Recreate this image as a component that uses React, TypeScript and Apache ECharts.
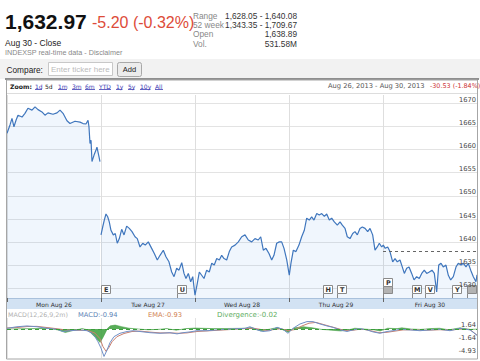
import React, { useEffect, useRef } from 'react';
import * as echarts from 'echarts';

const SANS = '"Liberation Sans", Arial, sans-serif';
const VERD = '"DejaVu Sans", Verdana, sans-serif';

// ---------- quote header ----------
const quotePrice = '1,632.97';
const quoteChange = '-5.20 (-0.32%)';
const quoteDate = 'Aug 30 - Close';
const quoteSource = 'INDEXSP real-time data - Disclaimer';
const statLabels = ['Range', '52 week', 'Open', 'Vol.'];
const statValues = ['1,628.05 - 1,640.08', '1,343.35 - 1,709.67', '1,638.89', '531.58M'];
const zoomLinks = ['1d', '5d', '1m', '3m', '6m', 'YTD', '1y', '5y', '10y', 'All'];
const activeZoom = '5d';
const rangeText = 'Aug 26, 2013 - Aug 30, 2013';
const rangeChange = '-30.53 (-1.84%)';

// ---------- axes ----------
const dayLabels = ['Mon Aug 26', 'Tue Aug 27', 'Wed Aug 28', 'Thu Aug 29', 'Fri Aug 30'];
const priceTicks = [1630, 1635, 1640, 1645, 1650, 1655, 1660, 1665, 1670];
const priceMin = 1628;
const priceMax = 1671.75;
const prevClose = 1638.17;
const macdTicks = [1.64, -1.64, -4.93];

// ---------- price, x = trading days since Mon open ----------
const monday = [
  [0.0, 1663.5], [0.032, 1665.3], [0.053, 1666.7], [0.074, 1664.9], [0.096, 1666.3],
  [0.117, 1667.4], [0.16, 1667.0], [0.191, 1667.8], [0.223, 1668.9], [0.266, 1668.5],
  [0.298, 1669.2], [0.33, 1668.6], [0.372, 1668.1], [0.404, 1667.4], [0.436, 1667.9],
  [0.489, 1667.6], [0.532, 1667.9], [0.564, 1668.5], [0.596, 1667.8], [0.638, 1666.2],
  [0.67, 1665.6], [0.723, 1666.1], [0.777, 1665.9], [0.809, 1665.6], [0.84, 1665.5],
  [0.862, 1666.3], [0.872, 1664.9], [0.883, 1661.3], [0.894, 1662.0], [0.904, 1657.4],
  [0.926, 1658.8], [0.947, 1659.9], [0.957, 1660.5], [0.979, 1658.4], [0.989, 1657.4],
];
const tuesday = [
  [1.0, 1641.6], [1.018, 1643.3], [1.035, 1644.8], [1.053, 1646.1], [1.071, 1645.5],
  [1.088, 1644.4], [1.106, 1642.6], [1.131, 1641.6], [1.152, 1641.9], [1.173, 1639.8],
  [1.195, 1640.8], [1.22, 1642.8], [1.245, 1641.6], [1.273, 1643.5], [1.301, 1643.0],
  [1.33, 1642.3], [1.362, 1641.2], [1.386, 1640.8], [1.415, 1639.0], [1.444, 1639.8],
  [1.471, 1639.4], [1.503, 1640.1], [1.539, 1638.7], [1.567, 1637.6], [1.599, 1636.2],
  [1.628, 1637.2], [1.663, 1638.3], [1.691, 1636.9], [1.723, 1635.8], [1.752, 1633.6],
  [1.777, 1632.6], [1.805, 1634.4], [1.83, 1634.0], [1.859, 1635.6], [1.883, 1633.3],
  [1.904, 1632.2], [1.929, 1633.3], [1.954, 1631.5], [1.976, 1632.6], [2.0, 1628.6],
];
const wednesday = [
  [2.024, 1631.1], [2.046, 1633.6], [2.071, 1632.9], [2.096, 1632.2], [2.124, 1634.0],
  [2.152, 1633.6], [2.178, 1635.5], [2.205, 1635.1], [2.231, 1636.5], [2.259, 1636.2],
  [2.284, 1637.2], [2.309, 1636.5], [2.337, 1636.2], [2.365, 1638.0], [2.39, 1639.0],
  [2.426, 1639.4], [2.461, 1640.1], [2.497, 1641.2], [2.532, 1641.6], [2.567, 1640.5],
  [2.603, 1640.1], [2.638, 1640.8], [2.673, 1640.5], [2.699, 1641.2], [2.727, 1638.3],
  [2.755, 1638.7], [2.787, 1637.6], [2.816, 1636.2], [2.84, 1637.2], [2.869, 1639.8],
  [2.897, 1640.1], [2.922, 1640.1], [2.947, 1638.7], [2.976, 1636.2],
];
const thursday = [
  [3.003, 1632.9], [3.021, 1635.5], [3.046, 1638.3], [3.074, 1638.0], [3.106, 1639.4],
  [3.135, 1641.2], [3.163, 1642.6], [3.188, 1645.2], [3.216, 1644.8], [3.241, 1645.5],
  [3.266, 1644.8], [3.295, 1646.2], [3.322, 1645.9], [3.348, 1646.2], [3.376, 1645.6],
  [3.401, 1646.1], [3.429, 1644.8], [3.454, 1645.2], [3.482, 1644.4], [3.514, 1643.7],
  [3.543, 1644.4], [3.567, 1643.7], [3.596, 1643.0], [3.62, 1641.2], [3.649, 1640.8],
  [3.678, 1641.9], [3.702, 1642.3], [3.727, 1641.6], [3.755, 1643.0], [3.78, 1643.3],
  [3.809, 1643.0], [3.837, 1642.3], [3.862, 1643.0], [3.89, 1641.6], [3.915, 1638.3],
  [3.939, 1639.0], [3.961, 1639.8], [3.986, 1639.0],
];
const friday = [
  [4.003, 1639.4], [4.024, 1638.7], [4.05, 1639.0], [4.074, 1638.0], [4.103, 1635.8],
  [4.128, 1636.5], [4.152, 1635.8], [4.181, 1636.2], [4.205, 1634.7], [4.227, 1633.3],
  [4.252, 1634.4], [4.277, 1634.7], [4.305, 1633.3], [4.33, 1631.9], [4.358, 1632.6],
  [4.386, 1632.2], [4.412, 1633.3], [4.439, 1634.0], [4.465, 1633.3], [4.493, 1633.6],
  [4.521, 1634.0], [4.546, 1633.3], [4.571, 1629.3], [4.593, 1635.1], [4.617, 1635.5],
  [4.641, 1634.7], [4.67, 1635.1], [4.695, 1632.9], [4.72, 1631.9], [4.748, 1632.6],
  [4.777, 1634.7], [4.801, 1635.5], [4.83, 1635.1], [4.854, 1635.5], [4.883, 1634.7],
  [4.907, 1635.5], [4.933, 1634.0], [4.961, 1632.6], [4.989, 1631.5], [5.0, 1632.97],
];

// ---------- MACD panel ----------
const macdLine = [
  [0, 0.8], [0.106, 1.2], [0.213, 1.4], [0.319, 1.2], [0.426, 0.8], [0.532, 0.55], [0.596, 0.0],
  [0.67, 0.2], [0.777, 0.4], [0.851, 0.2], [0.904, -0.45], [0.936, -1.3], [0.968, -2.6],
  [1.0, -4.2], [1.032, -6.3], [1.064, -4.7], [1.096, -2.8], [1.138, -1.3], [1.202, -0.45],
  [1.277, 0.0], [1.34, 0.2], [1.415, 0.0], [1.521, -0.3], [1.628, -0.45], [1.734, -0.3],
  [1.809, -0.6], [1.872, -0.3], [1.947, -0.1], [2.021, 0.2], [2.128, 0.2], [2.234, 0.4],
  [2.34, 0.55], [2.447, 0.7], [2.532, 0.8], [2.585, 1.2], [2.66, 0.4], [2.723, 0.0],
  [2.798, 0.2], [2.872, 1.05], [2.936, 0.55], [2.989, -0.45], [3.043, 0.8], [3.117, 1.9],
  [3.191, 2.5], [3.255, 2.5], [3.33, 1.9], [3.404, 1.4], [3.468, 1.05], [3.543, 0.4],
  [3.617, 0.0], [3.681, 0.4], [3.755, 0.7], [3.83, 0.4], [3.894, -0.1], [3.968, -0.45],
  [4.043, 0.0], [4.106, 0.2], [4.181, 0.55], [4.287, 0.4], [4.394, 0.2], [4.5, 0.4],
  [4.606, 0.55], [4.713, 0.2], [4.819, 0.8], [4.926, 0.4], [5.0, -0.94],
];
const emaLine = [
  [0, 0.9], [0.106, 1.0], [0.213, 1.25], [0.319, 1.3], [0.426, 1.0], [0.532, 0.7], [0.638, 0.35],
  [0.745, 0.3], [0.851, 0.3], [0.936, -0.4], [0.989, -1.8], [1.021, -3.8], [1.053, -5.0],
  [1.085, -4.0], [1.117, -2.6], [1.17, -1.3], [1.245, -0.5], [1.33, 0.0], [1.415, 0.1],
  [1.521, -0.15], [1.628, -0.35], [1.734, -0.35], [1.83, -0.45], [1.915, -0.35], [2.021, 0.0],
  [2.128, 0.15], [2.234, 0.3], [2.34, 0.45], [2.447, 0.6], [2.532, 0.75], [2.617, 0.85],
  [2.692, 0.55], [2.766, 0.25], [2.84, 0.5], [2.915, 0.7], [2.989, 0.2], [3.064, 0.5],
  [3.138, 1.4], [3.213, 2.1], [3.287, 2.3], [3.362, 1.8], [3.436, 1.3], [3.511, 0.8],
  [3.585, 0.3], [3.66, 0.25], [3.734, 0.5], [3.809, 0.5], [3.883, 0.1], [3.957, -0.3],
  [4.043, -0.2], [4.128, 0.1], [4.213, 0.4], [4.298, 0.45], [4.404, 0.3], [4.5, 0.35],
  [4.606, 0.45], [4.713, 0.35], [4.819, 0.6], [4.926, 0.5], [5.0, -0.93],
];
const divergence = [
  [0, 0], [0.3, 0.1], [0.45, 0.2], [0.55, -0.3], [0.62, -0.9], [0.7, -0.4], [0.8, 0.1],
  [0.86, -0.2], [0.9, -1.2], [0.95, -2.4], [0.99, -3.4], [1.02, -2.2], [1.05, -0.8],
  [1.07, 0.2], [1.1, 0.8], [1.15, 1.0], [1.22, 0.6], [1.3, 0.2], [1.4, 0.0], [1.5, -0.2],
  [1.6, -0.1], [1.7, 0.1], [1.8, -0.3], [1.9, 0.1], [2.0, 0.25], [2.2, 0.1], [2.4, 0.15],
  [2.55, 0.2], [2.6, 0.4], [2.7, -0.5], [2.8, 0.0], [2.88, 0.4], [2.99, -0.8], [3.06, 0.3],
  [3.15, 0.6], [3.25, 0.3], [3.35, -0.1], [3.45, -0.3], [3.55, -0.5], [3.62, -0.3],
  [3.7, 0.2], [3.8, 0.0], [3.9, -0.2], [3.97, -0.5], [4.05, 0.2], [4.15, 0.1], [4.2, 0.3],
  [4.3, 0.0], [4.4, -0.1], [4.5, 0.1], [4.6, 0.2], [4.7, -0.2], [4.82, 0.3], [4.93, -0.1],
  [5.0, -0.02],
];
const macdTitle = 'MACD(12,26,9,2m)';
const macdValueText = 'MACD:-0.94';
const emaValueText = 'EMA:-0.93';
const divValueText = 'Divergence:-0.02';

// ---------- news flags ----------
const flagTimes = [1.0, 1.809, 3.362, 3.511, 4.0, 4.0, 4.309, 4.447, 4.734, 4.894];
const flagRows = [0, 0, 0, 0, 0, 1, 0, 0, 0, 0];
const flagLetters = ['E', 'U', 'H', 'T', '', 'P', 'M', 'V', 'Y', ''];

function text(x: number, y: number, t: string, o: any = {}) {
  return {
    type: 'text',
    x,
    y,
    silent: true,
    z: 10,
    style: {
      text: t,
      fontFamily: o.family || SANS,
      fontSize: o.size || 8,
      fontWeight: o.weight || 'normal',
      fill: o.color || '#222',
      textAlign: o.align || 'left',
      textVerticalAlign: 'middle',
    },
  };
}

function buildGraphic() {
  const g: any[] = [];
  g.push({ type: 'rect', z: -2, silent: true, shape: { x: 0, y: 59, width: 480, height: 20 }, style: { fill: '#f2f2f2' } });
  g.push({ type: 'rect', z: 5, silent: true, shape: { x: 5, y: 78, width: 474, height: 2 }, style: { fill: '#8f8f8f' } });
  g.push({ type: 'rect', z: 5, silent: true, shape: { x: 6.5, y: 80, width: 471, height: 279 }, style: { fill: 'none', stroke: '#a6a6a6', lineWidth: 1 } });
  g.push({ type: 'line', z: 5, silent: true, shape: { x1: 7, y1: 93.5, x2: 477, y2: 93.5 }, style: { stroke: '#dddddd', lineWidth: 1 } });
  g.push({ type: 'rect', z: -1, silent: true, shape: { x: 7, y: 298, width: 470, height: 11 }, style: { fill: '#d2e2f3' } });
  // compare row
  g.push({ type: 'rect', z: 5, silent: true, shape: { x: 48.5, y: 62.5, width: 64, height: 13 }, style: { fill: '#fff', stroke: '#c8c8c8', lineWidth: 1 } });
  g.push({ type: 'rect', z: 5, silent: true, shape: { x: 117.5, y: 62.5, width: 24, height: 14, r: 2 }, style: { fill: '#ececec', stroke: '#a8a8a8', lineWidth: 1 } });

  g.push(text(5, 21.7, quotePrice, { size: 21, weight: 'bold', color: '#111' }));
  g.push(text(92, 22.8, quoteChange, { size: 16, color: '#dd4b39' }));
  g.push(text(5, 42.7, quoteDate, { size: 8.5, color: '#222' }));
  g.push(text(5, 52.5, quoteSource, { size: 7.2, color: '#888' }));
  const rowY = [15.7, 25, 34.3, 44];
  statLabels.forEach((s, i) => g.push(text(193, rowY[i], s, { size: 8.3, color: '#888' })));
  statValues.forEach((s, i) => g.push(text(297, rowY[i], s, { size: 8.3, color: '#333', align: 'right' })));
  g.push(text(6.5, 70, 'Compare:', { size: 8.3, color: '#222' }));
  g.push(text(51, 69.5, 'Enter ticker here', { size: 8, color: '#bbb' }));
  g.push(text(129.5, 69.8, 'Add', { size: 7.5, color: '#222', align: 'center' }));

  // zoom bar
  g.push(text(10, 86.3, 'Zoom:', { family: VERD, size: 6.2, weight: 'bold', color: '#222' }));
  const linkX = [35, 45, 58, 72, 85, 99, 116, 128, 140, 155];
  const linkW = [7, 7.5, 9, 9.5, 10, 12, 6.5, 6.5, 10.5, 8];
  zoomLinks.forEach((s, i) => {
    const active = s === activeZoom;
    g.push(text(linkX[i], 86.3, s, { family: VERD, size: 6, color: active ? '#222' : '#3b3bb3' }));
    if (!active) {
      g.push({ type: 'line', z: 10, silent: true, shape: { x1: linkX[i], y1: 89.5, x2: linkX[i] + linkW[i], y2: 89.5 }, style: { stroke: '#3b3bb3', lineWidth: 0.8 } });
    }
  });
  g.push(text(328, 86.3, rangeText, { family: VERD, size: 6.7, color: '#555' }));
  g.push(text(430, 86.3, rangeChange, { family: VERD, size: 6.4, color: '#cc3333' }));

  // MACD legend row
  g.push(text(8, 314.5, macdTitle, { family: VERD, size: 6.3, color: '#b0b0b0' }));
  g.push(text(78, 314.5, macdValueText, { family: VERD, size: 6.7, color: '#5a7fb5' }));
  g.push(text(148, 314.5, emaValueText, { family: VERD, size: 6.7, color: '#d0804f' }));
  g.push(text(217, 314.5, divValueText, { family: VERD, size: 7, color: '#5fae5f' }));
  return g;
}

function renderFlag(params: any, api: any) {
  const t = api.value(0);
  const row = api.value(1);
  const base = api.coord([t, priceMin]);
  const letter = flagLetters[params.dataIndex];
  const x0 = Math.round(base[0]) + 0.5;
  const bottom = Math.round(base[1]);
  const w = 9;
  const h = 8;
  const top = bottom - 13 - row * 7 + 0.5;
  const children: any[] = [
    { type: 'line', shape: { x1: x0, y1: top + h, x2: x0, y2: bottom }, style: { stroke: '#8a8a8a', lineWidth: 1 } },
    { type: 'rect', shape: { x: x0, y: top, width: w, height: h }, style: { fill: letter ? '#ffffff' : '#b3b3b3', stroke: '#8a8a8a', lineWidth: 1 } },
  ];
  if (letter) {
    children.push({
      type: 'text',
      style: {
        text: letter, x: x0 + w / 2 + 0.3, y: top + h / 2 + 0.5,
        textAlign: 'center', textVerticalAlign: 'middle',
        fontFamily: VERD, fontSize: 6.5, fontWeight: 'bold', fill: '#333',
      },
    });
  }
  return { type: 'group', children };
}

const axisText = { fontSize: 6.7, fontFamily: VERD, color: '#444' };

function buildOption() {
  const priceData: any[] = [...monday, [0.995, '-'], ...tuesday, ...wednesday, ...thursday, ...friday];
  return {
    animation: false,
    graphic: buildGraphic(),
    grid: [
      { left: 7, top: 95, width: 470, height: 203 },
      { left: 7, top: 318, width: 470, height: 40 },
    ],
    xAxis: [
      {
        type: 'value', gridIndex: 0, min: 0, max: 5, interval: 1,
        axisLine: { show: false }, axisTick: { show: false }, axisLabel: { show: false },
        splitLine: { show: true, lineStyle: { color: '#dedede', width: 1 } },
      },
      {
        type: 'category', gridIndex: 0, position: 'bottom', data: dayLabels, boundaryGap: true,
        axisLine: { show: true, lineStyle: { color: '#a9c1dc' } },
        axisTick: { show: true, length: 4, lineStyle: { color: '#666' } },
        axisLabel: { interval: 0, margin: 3, fontSize: 6, fontFamily: VERD, color: '#333' },
        splitLine: { show: false },
      },
      {
        type: 'value', gridIndex: 1, min: 0, max: 5, interval: 1,
        axisLine: { show: false }, axisTick: { show: false }, axisLabel: { show: false },
        splitLine: { show: true, lineStyle: { color: '#e2e2e2', width: 1 } },
      },
    ],
    yAxis: [
      // price scale with its grid lines (drawn beneath the series)
      {
        type: 'value', gridIndex: 0, position: 'right', min: priceMin, max: priceMax,
        axisLine: { show: false },
        axisTick: { show: false, customValues: priceTicks },
        axisLabel: { show: false },
        splitLine: { show: true, lineStyle: { color: '#e3e3e3', width: 1 } },
      },
      {
        type: 'value', gridIndex: 1, position: 'right', min: -6.69, max: 3.41, z: 10,
        axisLine: { show: false }, axisTick: { show: false, customValues: macdTicks },
        axisLabel: {
          inside: true, margin: 1, customValues: macdTicks, ...axisText,
          verticalAlign: 'middle', formatter: (v: number) => String(v),
        },
        splitLine: { show: false },
      },
      { type: 'value', gridIndex: 1, min: -7.32, max: 2.78, show: false, splitLine: { show: false } },
      // same price scale, labels only, drawn above the flags
      {
        type: 'value', gridIndex: 0, position: 'right', min: priceMin, max: priceMax, z: 10,
        axisLine: { show: false },
        axisTick: { show: false, customValues: priceTicks },
        axisLabel: {
          inside: true, margin: 1, customValues: priceTicks, ...axisText,
          verticalAlign: 'bottom', formatter: (v: number) => String(v),
        },
        splitLine: { show: false },
      },
    ],
    series: [
      {
        type: 'line', xAxisIndex: 0, yAxisIndex: 0, data: priceData, symbol: 'none', showSymbol: false,
        lineStyle: { color: '#3f76bd', width: 1.2 },
        areaStyle: { color: 'rgba(70,150,230,0.12)', origin: 'start' },
        markLine: {
          silent: true, symbol: 'none', label: { show: false },
          lineStyle: { type: [3, 3], color: '#666666', width: 1 },
          data: [[{ coord: [4, prevClose] }, { coord: [5, prevClose] }]],
        },
      },
      {
        type: 'custom', xAxisIndex: 0, yAxisIndex: 0, clip: false,
        data: flagTimes.map((t, i) => [t, flagRows[i]]),
        encode: { x: 0, y: 1 },
        renderItem: renderFlag,
        z: 5,
      },
      {
        type: 'line', xAxisIndex: 2, yAxisIndex: 2, data: divergence, symbol: 'none',
        lineStyle: { width: 0.5, color: '#3f9a3f' },
        areaStyle: { color: '#46a446', origin: 'auto', opacity: 0.9 },
        markLine: {
          silent: true, symbol: 'none', label: { show: false },
          lineStyle: { type: [4, 3], color: '#3c9c3c', width: 1 },
          data: [{ yAxis: 0 }],
        },
      },
      {
        type: 'line', xAxisIndex: 2, yAxisIndex: 1, data: emaLine, symbol: 'none',
        lineStyle: { color: '#c98070', width: 1 },
      },
      {
        type: 'line', xAxisIndex: 2, yAxisIndex: 1, data: macdLine, symbol: 'none',
        lineStyle: { color: '#6f8fc6', width: 1 },
      },
    ],
  };
}

export default function App() {
  const ref = useRef<HTMLDivElement>(null);
  useEffect(() => {
    if (!ref.current) return;
    const chart = echarts.init(ref.current, null, { renderer: 'svg' });
    chart.setOption(buildOption() as any);
    return () => chart.dispose();
  }, []);
  return <div ref={ref} style={{ position: 'absolute', left: 0, top: 0, width: 480, height: 361 }} />;
}
